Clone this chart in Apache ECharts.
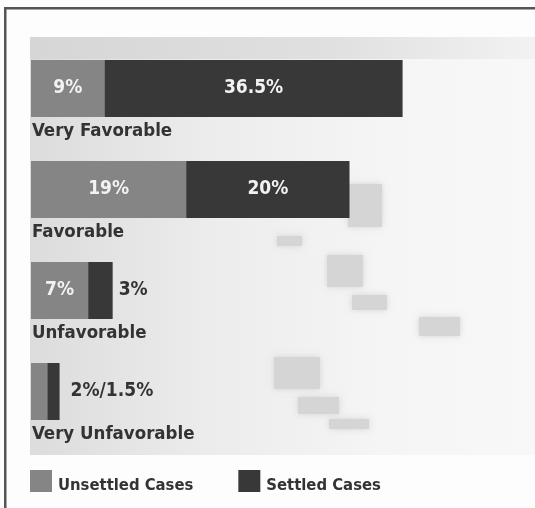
<!DOCTYPE html>
<html>
<head>
<meta charset="utf-8">
<script src="https://cdn.jsdelivr.net/npm/echarts@6/dist/echarts.min.js"></script>
<style>
  html, body { margin: 0; padding: 0; background: #fdfdfd; }
  #chart { width: 535px; height: 508px; }
</style>
</head>
<body>
<div id="chart"></div>
<script>
  var categories = ['Very Favorable', 'Favorable', 'Unfavorable', 'Very Unfavorable'];
  var unsettled = [9, 19, 7, 2];    // Unsettled Cases, %
  var settled = [36.5, 20, 3, 1.5]; // Settled Cases, %

  var FONT = '"DejaVu Sans Condensed", "DejaVu Sans", sans-serif';
  var GRAY = '#858585';
  var DARK = '#383838';

  // bars too narrow for an inside label get it on the right
  var unsettledData = unsettled.map(function (v, i) {
    return {
      value: v,
      label: { show: v >= 5 }
    };
  });
  var settledData = settled.map(function (v, i) {
    var small = settled[i] < 5;
    var item = { value: v };
    if (small) {
      item.label = {
        position: 'right',
        distance: unsettled[i] < 5 ? 11 : 6,
        color: '#333',
        formatter: unsettled[i] < 5 ? (unsettled[i] + '%/' + v + '%') : (v + '%')
      };
    }
    return item;
  });

  // soft grey squares of the backdrop picture
  function blob(x, y, w, h) {
    return {
      type: 'rect', shape: { x: x, y: y, width: w, height: h }, silent: true, z: -8,
      style: { fill: '#d5d5d5', shadowBlur: 6, shadowColor: '#d5d5d5' }
    };
  }

  var mycharts = echarts.init(document.getElementById('chart'));
  var options = {
    animation: false,
    backgroundColor: '#fdfdfd',
    graphic: [
      // frame
      { type: 'rect', shape: { x: 4, y: 7, width: 540, height: 2.5 }, style: { fill: '#555' }, silent: true },
      { type: 'rect', shape: { x: 4, y: 7, width: 2.5, height: 510 }, style: { fill: '#555' }, silent: true },
      // backdrop picture, roughly
      {
        type: 'rect', shape: { x: 30, y: 37, width: 505, height: 418 }, silent: true, z: -10,
        style: {
          fill: new echarts.graphic.LinearGradient(0, 0, 1, 0, [
            { offset: 0, color: '#dcdcdc' },
            { offset: 0.35, color: '#ececec' },
            { offset: 0.7, color: '#f5f5f5' },
            { offset: 1, color: '#f8f8f8' }
          ])
        }
      },
      {
        type: 'rect', shape: { x: 30, y: 37, width: 505, height: 22 }, silent: true, z: -9,
        style: {
          fill: new echarts.graphic.LinearGradient(0, 0, 1, 0, [
            { offset: 0, color: '#d6d6d6' },
            { offset: 0.6, color: '#e0e0e0' },
            { offset: 1, color: '#f2f2f2' }
          ])
        }
      },
      blob(348, 184, 34, 43),
      blob(277, 236, 25, 10),
      blob(327, 255, 36, 32),
      blob(352, 295, 35, 15),
      blob(419, 317, 41, 19),
      blob(274, 357, 46, 32),
      blob(298, 397, 41, 17),
      blob(329, 419, 40, 10)
    ],
    legend: {
      data: ['Unsettled Cases', 'Settled Cases'],
      left: 30,
      top: 470,
      padding: 0,
      icon: 'rect',
      itemWidth: 22,
      itemHeight: 22,
      itemGap: 45,
      formatter: '{t|{name}}',
      textStyle: {
        fontFamily: FONT, fontSize: 16.5, fontWeight: 'bold', color: '#333',
        rich: { t: { fontFamily: FONT, fontSize: 16.5, fontWeight: 'bold', color: '#333', padding: [9, 0, 0, 1] } }
      }
    },
    grid: { left: 31, right: 14, top: 38, height: 404 },
    xAxis: { type: 'value', min: 0, max: 60, show: false },
    yAxis: {
      type: 'category',
      inverse: true,
      data: categories,
      axisLine: { show: false },
      axisTick: { show: false },
      splitLine: { show: false },
      axisLabel: {
        inside: true,
        margin: 1,
        verticalAlign: 'top',
        padding: [34, 0, 0, 0],
        lineHeight: 18,
        fontFamily: FONT,
        fontSize: 18.5,
        fontWeight: 'bold',
        color: '#333'
      },
      z: 10
    },
    series: [
      {
        name: 'Unsettled Cases',
        type: 'bar',
        stack: 'cases',
        barWidth: 57,
        color: GRAY,
        label: { position: 'inside', color: '#f2f2f2', fontFamily: FONT, fontSize: 19, fontWeight: 'bold', formatter: '{c}%' },
        data: unsettledData
      },
      {
        name: 'Settled Cases',
        type: 'bar',
        stack: 'cases',
        barWidth: 57,
        color: DARK,
        label: { show: true, position: 'inside', color: '#f2f2f2', fontFamily: FONT, fontSize: 19, fontWeight: 'bold', formatter: '{c}%' },
        data: settledData
      }
    ]
  };
  mycharts.setOption(options);
</script>
</body>
</html>
